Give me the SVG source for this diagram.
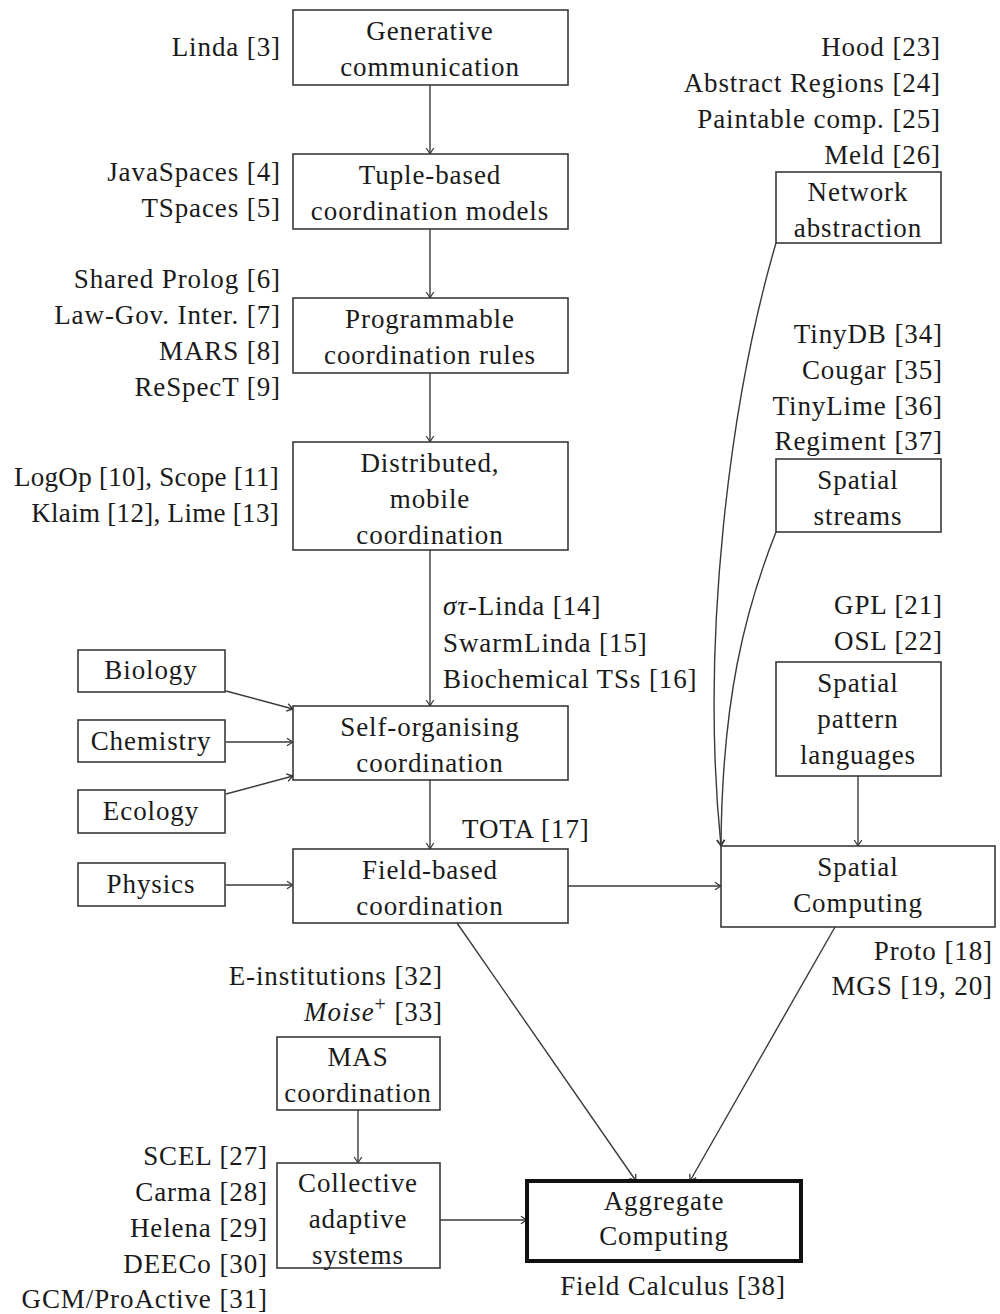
<svg xmlns="http://www.w3.org/2000/svg" width="1000" height="1314" viewBox="0 0 1000 1314">
  <defs>
    <style>
      text { font-family: "Liberation Serif", "Times New Roman", serif; font-size: 27px; letter-spacing: 0.9px; fill: #1a1a1a; }
      .c { text-anchor: middle; }
      .r { text-anchor: end; }
      .l { text-anchor: start; }
      .tight { letter-spacing: 0.3px; }
      .box { fill: #ffffff; stroke: #3a3a3a; stroke-width: 1.6; }
      .main { fill: #ffffff; stroke: #111111; stroke-width: 4; }
      .edge { fill: none; stroke: #3a3a3a; stroke-width: 1.4; marker-end: url(#tip); }
      .it { font-style: italic; }
    </style>
    <marker id="tip" viewBox="-7 -5 8 10" markerWidth="8" markerHeight="10" refX="0" refY="0" orient="auto" markerUnits="userSpaceOnUse">
      <path d="M -6 -3.8 Q -2 -1 0 0 Q -2 1 -6 3.8" fill="none" stroke="#3a3a3a" stroke-width="1.3"/>
    </marker>
  </defs>

  <rect width="1000" height="1314" fill="#ffffff"/>

  <!-- connectors -->
  <g id="connectors">
    <path class="edge" d="M430,85 L430,154"/>
    <path class="edge" d="M430,229 L430,298"/>
    <path class="edge" d="M430,373 L430,442"/>
    <path class="edge" d="M430,550 L430,706"/>
    <path class="edge" d="M430,780 L430,849"/>
    <path class="edge" d="M226,691 L293,709"/>
    <path class="edge" d="M226,742 L293,742"/>
    <path class="edge" d="M226,794 L293,776"/>
    <path class="edge" d="M226,885 L293,885"/>
    <path class="edge" d="M568,886 L721,886"/>
    <path class="edge" d="M457,923 L636,1181"/>
    <path class="edge" d="M835,927 L690,1181"/>
    <path class="edge" d="M358,1110 L358,1163"/>
    <path class="edge" d="M440,1220 L527,1220"/>
    <path class="edge" d="M858,776 L858,846"/>
    <path class="edge" d="M776,243 C730,400 700,640 721,846"/>
    <path class="edge" d="M776,532 C745,610 722,700 721,846"/>
  </g>

  <!-- coordination line -->
  <g id="generative">
    <rect class="box" x="293" y="10" width="275" height="75"/>
    <text class="c" x="430" y="40">Generative</text>
    <text class="c" x="430" y="76">communication</text>
  </g>
  <g id="tuple">
    <rect class="box" x="293" y="154" width="275" height="75"/>
    <text class="c" x="430" y="184">Tuple-based</text>
    <text class="c" x="430" y="220">coordination models</text>
  </g>
  <g id="programmable">
    <rect class="box" x="293" y="298" width="275" height="75"/>
    <text class="c" x="430" y="328">Programmable</text>
    <text class="c" x="430" y="364">coordination rules</text>
  </g>
  <g id="distributed">
    <rect class="box" x="293" y="442" width="275" height="108"/>
    <text class="c" x="430" y="472">Distributed,</text>
    <text class="c" x="430" y="508">mobile</text>
    <text class="c" x="430" y="544">coordination</text>
  </g>
  <g id="selforg">
    <rect class="box" x="293" y="706" width="275" height="74"/>
    <text class="c" x="430" y="736">Self-organising</text>
    <text class="c" x="430" y="772">coordination</text>
  </g>
  <g id="fieldbased">
    <rect class="box" x="293" y="849" width="275" height="74"/>
    <text class="c" x="430" y="879">Field-based</text>
    <text class="c" x="430" y="915">coordination</text>
  </g>

  <!-- natural inspirations -->
  <g id="biology">
    <rect class="box" x="78" y="650" width="147" height="42"/>
    <text class="c" x="151" y="679">Biology</text>
  </g>
  <g id="chemistry">
    <rect class="box" x="78" y="720" width="147" height="42"/>
    <text class="c" x="151" y="750">Chemistry</text>
  </g>
  <g id="ecology">
    <rect class="box" x="78" y="790" width="147" height="43"/>
    <text class="c" x="151" y="820">Ecology</text>
  </g>
  <g id="physics">
    <rect class="box" x="78" y="863" width="147" height="43"/>
    <text class="c" x="151" y="893">Physics</text>
  </g>

  <!-- spatial computing line -->
  <g id="network">
    <rect class="box" x="776" y="172" width="165" height="71"/>
    <text class="c" x="858" y="201">Network</text>
    <text class="c" x="858" y="237">abstraction</text>
  </g>
  <g id="streams">
    <rect class="box" x="776" y="459" width="165" height="73"/>
    <text class="c" x="858" y="489">Spatial</text>
    <text class="c" x="858" y="525">streams</text>
  </g>
  <g id="patterns">
    <rect class="box" x="776" y="662" width="165" height="114"/>
    <text class="c" x="858" y="692">Spatial</text>
    <text class="c" x="858" y="728">pattern</text>
    <text class="c" x="858" y="764">languages</text>
  </g>
  <g id="spatial">
    <rect class="box" x="721" y="846" width="274" height="81"/>
    <text class="c" x="858" y="876">Spatial</text>
    <text class="c" x="858" y="912">Computing</text>
  </g>

  <!-- multi-agent line -->
  <g id="mas">
    <rect class="box" x="277" y="1037" width="163" height="73"/>
    <text class="c" x="358" y="1066">MAS</text>
    <text class="c" x="358" y="1102">coordination</text>
  </g>
  <g id="cas">
    <rect class="box" x="277" y="1163" width="163" height="105"/>
    <text class="c" x="358" y="1192">Collective</text>
    <text class="c" x="358" y="1228">adaptive</text>
    <text class="c" x="358" y="1264">systems</text>
  </g>

  <g id="aggregate">
    <rect class="main" x="527" y="1181" width="274" height="80"/>
    <text class="c" x="664" y="1210">Aggregate</text>
    <text class="c" x="664" y="1245">Computing</text>
  </g>

  <!-- references -->
  <g id="refs">
    <text class="r" x="281" y="56">Linda [3]</text>
    <text class="r" x="281" y="181">JavaSpaces [4]</text>
    <text class="r" x="281" y="217">TSpaces [5]</text>
    <text class="r" x="281" y="288">Shared Prolog [6]</text>
    <text class="r" x="281" y="324">Law-Gov. Inter. [7]</text>
    <text class="r" x="281" y="360">MARS [8]</text>
    <text class="r" x="281" y="396">ReSpecT [9]</text>
    <text class="r tight" x="279" y="486">LogOp [10], Scope [11]</text>
    <text class="r tight" x="279" y="522">Klaim [12], Lime [13]</text>
    <text class="l" x="443" y="615"><tspan class="it">στ</tspan>-Linda [14]</text>
    <text class="l" x="443" y="652">SwarmLinda [15]</text>
    <text class="l" x="443" y="688">Biochemical TSs [16]</text>
    <text class="l" x="462" y="838">TOTA [17]</text>
    <text class="r" x="941" y="56">Hood [23]</text>
    <text class="r" x="941" y="92">Abstract Regions [24]</text>
    <text class="r" x="941" y="128">Paintable comp. [25]</text>
    <text class="r" x="941" y="164">Meld [26]</text>
    <text class="r" x="943" y="343">TinyDB [34]</text>
    <text class="r" x="943" y="379">Cougar [35]</text>
    <text class="r" x="943" y="415">TinyLime [36]</text>
    <text class="r" x="943" y="450">Regiment [37]</text>
    <text class="r" x="943" y="614">GPL [21]</text>
    <text class="r" x="943" y="650">OSL [22]</text>
    <text class="r" x="993" y="960">Proto [18]</text>
    <text class="r" x="993" y="995">MGS [19, 20]</text>
    <text class="r" x="443" y="985">E-institutions [32]</text>
    <text class="r" x="443" y="1021"><tspan class="it">Moise</tspan><tspan font-size="20" dy="-10">+</tspan><tspan dy="10"> [33]</tspan></text>
    <text class="r" x="268" y="1165">SCEL [27]</text>
    <text class="r" x="268" y="1201">Carma [28]</text>
    <text class="r" x="268" y="1237">Helena [29]</text>
    <text class="r" x="268" y="1273">DEECo [30]</text>
    <text class="r" x="268" y="1308">GCM/ProActive [31]</text>
    <text class="c" x="673" y="1295">Field Calculus [38]</text>
  </g>
</svg>
